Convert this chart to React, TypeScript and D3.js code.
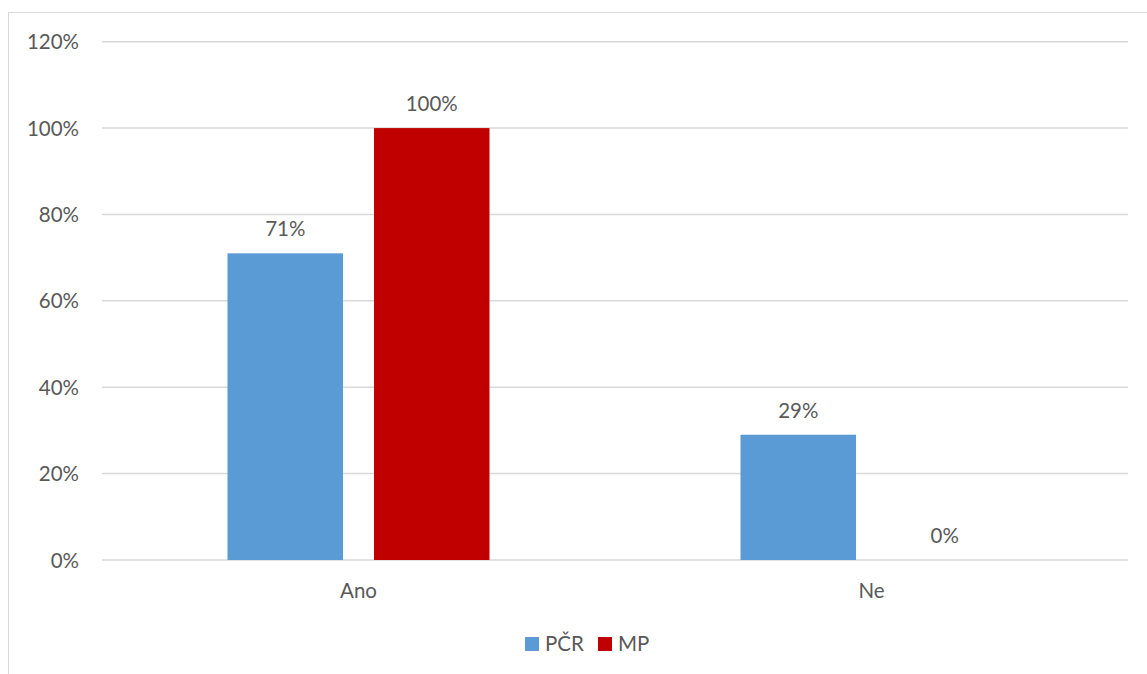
import React from "react";
import * as d3 from "d3";

const categories = ["Ano", "Ne"];
const seriesNames = ["PČR", "MP"];
const seriesColors = ["#5b9bd5", "#c00000"];
const pcrValues = [71, 29];
const mpValues = [100, 0];
const yTicks = [0, 20, 40, 60, 80, 100, 120];

const W = 1147;
const H = 674;
const FONT = "Lato, 'Open Sans', sans-serif";
const TEXT = "#595959";
const GRID = "#d9d9d9";

export default function App() {
  const plotLeft = 102;
  const plotRight = 1128;
  const y = d3.scaleLinear().domain([0, 120]).range([560, 41.7]);
  const x0 = d3.scaleBand<string>().domain(categories).range([plotLeft, plotRight]);
  const barWidth = 115.5;
  const barGap = 31;
  const groupWidth = barWidth * 2 + barGap;
  const x1 = d3
    .scaleBand<string>()
    .domain(seriesNames)
    .range([0, groupWidth])
    .paddingInner(barGap / (barWidth + barGap));
  const series = [pcrValues, mpValues];

  return (
    <svg
      width={W}
      height={H}
      style={{ position: "absolute", left: 0, top: 0, background: "#fff" }}
      fontFamily={FONT}
    >
      <rect x={8.5} y={12.5} width={W + 20} height={H + 20} fill="#fff" stroke={GRID} strokeWidth={1} />
      {yTicks.map((t) => (
        <g key={t}>
          <line x1={plotLeft} x2={plotRight} y1={y(t)} y2={y(t)} stroke={GRID} strokeWidth={1.5} />
          <text x={79} y={y(t) + 7.5} textAnchor="end" fontSize={20.5} fill={TEXT}>
            {t}%
          </text>
        </g>
      ))}
      {categories.map((c, ci) => {
        const gx = (x0(c) as number) + x0.bandwidth() / 2 - groupWidth / 2;
        return (
          <g key={c}>
            {seriesNames.map((s, si) => {
              const v = series[si][ci];
              const bx = gx + (x1(s) as number);
              const bw = x1.bandwidth();
              return (
                <g key={s}>
                  <rect x={bx} y={y(v)} width={bw} height={y(0) - y(v)} fill={seriesColors[si]} />
                  <text x={bx + bw / 2} y={y(v) - 17} textAnchor="middle" fontSize={20.5} fill={TEXT}>
                    {v}%
                  </text>
                </g>
              );
            })}
            <text
              x={(x0(c) as number) + x0.bandwidth() / 2}
              y={597.5}
              textAnchor="middle"
              fontSize={20.5}
              fill={TEXT}
            >
              {c}
            </text>
          </g>
        );
      })}
      <g>
        <rect x={525} y={637} width={14} height={14} fill={seriesColors[0]} />
        <text x={545} y={651} fontSize={20.5} fill={TEXT}>
          {seriesNames[0]}
        </text>
        <rect x={598} y={637} width={14} height={14} fill={seriesColors[1]} />
        <text x={618} y={651} fontSize={20.5} fill={TEXT}>
          {seriesNames[1]}
        </text>
      </g>
    </svg>
  );
}
